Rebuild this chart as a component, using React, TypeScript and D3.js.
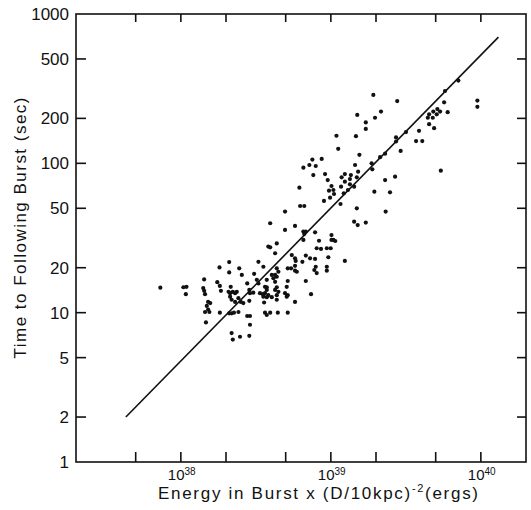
import React from 'react';
import * as d3 from 'd3';

// burst energy in units of 1e38 erg, and waiting time to the next burst (sec)
const energyE38 = [
    0.73, 1.04, 1.09, 1.08, 1.43, 1.41, 1.43, 1.45, 1.52, 1.57,
    1.49, 1.52, 1.45, 1.55, 1.47, 1.81, 2.10, 1.75, 1.82, 1.85,
    1.82, 2.10, 2.15, 2.45, 2.55, 2.08, 2.13, 2.22, 2.30, 2.36,
    2.13, 2.18, 2.30, 2.42, 2.51, 2.61, 2.10, 2.18, 2.26, 2.42,
    2.77, 2.86, 2.89, 3.04, 3.21, 3.29, 3.29, 3.08, 2.86, 2.77,
    2.89, 2.89, 2.18, 2.48, 2.86, 2.22, 3.55, 3.83, 3.37, 3.52,
    3.64, 3.55, 3.59, 3.64, 3.74, 6.24, 6.65, 9.0, 11.6, 14.9,
    23.2, 4.95, 3.94, 4.95, 5.77, 6.56, 6.81, 6.65, 7.85, 14.3,
    15.1, 17.1, 10.1, 10.4, 10.7, 10.1, 6.56, 8.34, 4.36, 3.94,
    8.05, 8.6, 9.4, 9.98, 4.25, 5.49, 5.77, 5.83, 6.81, 7.27,
    6.46, 7.85, 9.62, 12.4, 7.93, 7.76, 8.05, 9.4, 9.4, 5.77,
    5.77, 5.93, 5.16, 5.43, 4.36, 4.47, 4.04, 4.25, 4.36, 4.14,
    4.25, 5.16, 6.81, 3.74, 5.08, 3.74, 4.36, 4.47, 4.25, 4.36,
    3.83, 4.04, 3.74, 4.95, 5.08, 5.16, 7.38, 4.36, 5.77, 3.64,
    3.94, 4.43, 5.16, 3.74, 19.2, 27.7, 15.0, 21.6, 19.7, 17.1,
    17.1, 10.9, 14.7, 11.2, 15.5, 7.53, 8.69, 6.56, 7.19, 7.93,
    7.64, 14.5, 15.2, 18.7, 21.3, 23.0, 27.2, 9.15, 9.53, 11.8,
    12.4, 13.6, 13.4, 12.4, 14.9, 18.9, 10.1, 10.4, 10.5, 9.72,
    9.88, 11.7, 13.4, 14.3, 13.0, 12.2, 6.17, 23.0, 26.8, 24.8,
    19.5, 70.8, 57.7, 56.9, 51.3, 53.5, 48.2, 60.1, 45.2, 44.3,
    47.8, 50.8, 45.2, 48.8, 38.7, 31.7, 27.2, 37.0, 40.7, 29.2,
    94.8, 94.8, 54.1,
];

const interval = [
    14.7, 14.8, 14.9, 13.3, 16.7, 14.6, 14.0, 13.3, 11.8, 11.6,
    11.1, 10.5, 10.1, 10.1, 8.6, 20.1, 21.8, 16.0, 15.1, 14.0,
    10.0, 18.6, 14.9, 19.8, 17.9, 13.8, 13.5, 13.8, 13.5, 13.8,
    12.8, 12.2, 11.8, 12.5, 11.8, 11.6, 9.9, 9.9, 10.0, 10.1,
    15.7, 14.2, 13.5, 13.6, 16.6, 15.7, 21.9, 18.2, 12.0, 9.5,
    9.5, 8.3, 7.3, 6.9, 7.0, 6.6, 20.3, 27.7, 13.5, 13.3,
    13.5, 12.8, 11.7, 14.9, 14.2, 51.8, 51.8, 56, 53.4, 50,
    47.5, 47.5, 39.7, 35.8, 38.1, 34.9, 34.9, 33.6, 34.5, 40.7,
    38.6, 40.1, 33.1, 30.7, 30.2, 30.7, 30.7, 30.3, 29.1, 27.4,
    27.0, 26.7, 27.0, 27.0, 25.0, 24.3, 23.1, 22.2, 24.1, 23.1,
    21.9, 22.9, 23.5, 22.2, 20.3, 19.3, 18.4, 20.3, 19.1, 20.6,
    19.1, 18.8, 19.8, 19.8, 19.8, 18.8, 17.9, 17.9, 17.4, 17.0,
    16.1, 16.3, 16.3, 16.6, 14.9, 14.8, 14.8, 13.8, 14.2, 13.1,
    13.1, 12.7, 12.7, 13.5, 12.8, 13.1, 13.3, 12.2, 11.8, 10.0,
    10.0, 10.0, 10.0, 9.65, 287, 261, 211, 222, 202, 188,
    170, 153, 152, 125, 114, 106, 107, 93.5, 97.5, 96,
    83.5, 97.5, 87.9, 100, 110, 116, 140, 84.8, 77.3, 80.6,
    84.8, 83.5, 78.5, 75.4, 80.6, 91.2, 70.5, 66.3, 62.3, 65.6,
    58.9, 69.8, 72.4, 69.8, 66.3, 63.0, 68.7, 77.3, 81.4, 64.0,
    64.6, 358, 305, 256, 231, 222, 222, 220, 213, 202,
    202, 213, 183, 172, 165, 162, 149, 141, 141, 121,
    263, 239, 89.3,
];

// fitted line end points
const fitEnergyE38 = [0.43, 131];
const fitInterval = [2.0, 700];

const yTickValues = [1, 2, 5, 10, 20, 50, 100, 200, 500, 1000];
const xTickValues = [5e37, 1e38, 2e38, 5e38, 1e39, 2e39, 5e39, 1e40];
const xLabelExponents = [38, 39, 40];

const width = 531;
const height = 510;
const margin = { top: 14, right: 5, bottom: 48, left: 76 };

const App: React.FC = () => {
    const innerWidth = width - margin.left - margin.right;
    const innerHeight = height - margin.top - margin.bottom;

    const xScale = d3.scaleLog().domain([2e37, 2e40]).range([0, innerWidth]);
    const yScale = d3.scaleLog().domain([1, 1000]).range([innerHeight, 0]);

    const points = energyE38.map((e, i) => ({ e: e * 1e38, t: interval[i] }));
    const fit = fitEnergyE38.map((e, i) => ({ e: e * 1e38, t: fitInterval[i] }));

    const line = d3.line<{ e: number; t: number }>()
        .x(d => xScale(d.e))
        .y(d => yScale(d.t));

    const font = '"Liberation Sans", Arial, sans-serif';

    return (
        <svg width={width} height={height}
            style={{ position: 'absolute', left: 0, top: 0, background: '#fff' }}
            fontFamily={font}>
            <g transform={`translate(${margin.left},${margin.top})`}>
                <rect x={0} y={0} width={innerWidth} height={innerHeight}
                    fill="none" stroke="#111" strokeWidth={1.6} />

                {/* y ticks, left and right, pointing inward */}
                {yTickValues.slice(1, -1).map(v => (
                    <g key={'yt' + v}>
                        <line x1={0} x2={10} y1={yScale(v)} y2={yScale(v)} stroke="#111" strokeWidth={1.6} />
                        <line x1={innerWidth - 9} x2={innerWidth} y1={yScale(v)} y2={yScale(v)} stroke="#111" strokeWidth={1.6} />
                    </g>
                ))}
                {yTickValues.map(v => (
                    <text key={'yl' + v} x={-7} y={yScale(v)} dy="0.36em"
                        textAnchor="end" fontSize={17} fill="#111">{v}</text>
                ))}

                {/* x ticks, bottom and top */}
                {xTickValues.map(v => (
                    <g key={'xt' + v}>
                        <line x1={xScale(v)} x2={xScale(v)} y1={innerHeight} y2={innerHeight - 10} stroke="#111" strokeWidth={1.6} />
                        <line x1={xScale(v)} x2={xScale(v)} y1={0} y2={8} stroke="#111" strokeWidth={1.6} />
                    </g>
                ))}
                {xLabelExponents.map(p => (
                    <text key={'xl' + p} x={xScale(Math.pow(10, p)) - 13} y={innerHeight + 18}
                        fontSize={15} fill="#111">
                        10<tspan fontSize={10} dy={-5}>{p}</tspan>
                    </text>
                ))}

                {/* fitted relation */}
                <path d={line(fit) ?? ''} fill="none" stroke="#111" strokeWidth={1.6} />

                {points.map((d, i) => (
                    <circle key={i} cx={xScale(d.e)} cy={yScale(d.t)} r={2.1} fill="#111" />
                ))}

                <text x={82} y={innerHeight + 37} fontSize={17} fill="#111"
                    textLength={320} lengthAdjust="spacing">
                    Energy in Burst x (D/10kpc)<tspan fontSize={11} dy={-7}>-2</tspan><tspan dy={7}>(ergs)</tspan>
                </text>

                <text transform={`translate(${26 - margin.left},${228 - margin.top}) rotate(-90)`}
                    textAnchor="middle" fontSize={17} fill="#111"
                    textLength={261} lengthAdjust="spacing">
                    Time to Following Burst (sec)
                </text>
            </g>
        </svg>
    );
};

export default App;
